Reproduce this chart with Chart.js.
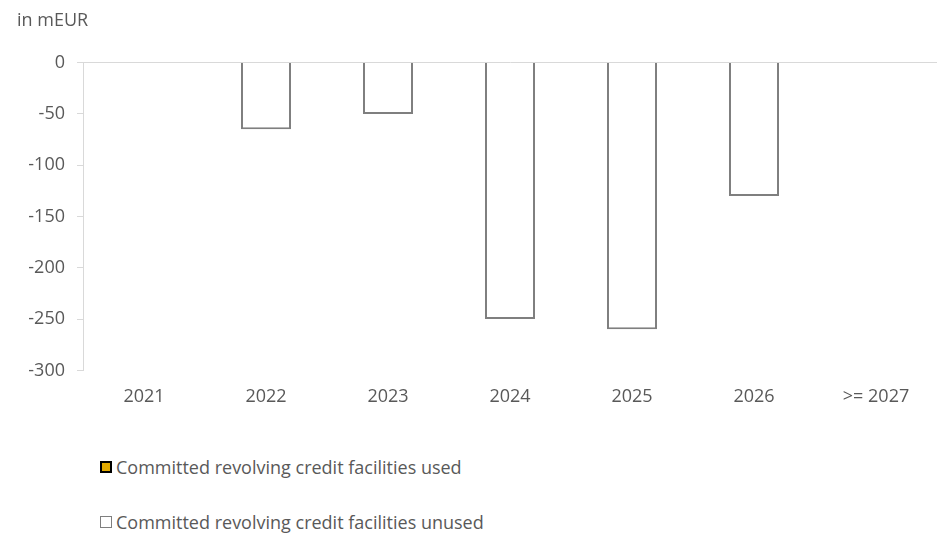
<!DOCTYPE html>
<html>
<head>
<meta charset="utf-8">
<script src="https://cdn.jsdelivr.net/npm/chart.js@4.4.0/dist/chart.umd.min.js"></script>
<style>
  body { margin: 0; background: #fff; font-family: "Open Sans", sans-serif; }
  #wrap { position: relative; width: 941px; height: 535px; }
  #box { position: absolute; left: 0; top: 0; width: 941px; height: 416px; }
  .leg { position: absolute; left: 100px; font-size: 18px; color: #595959; line-height: 22px; display: flex; align-items: center; }
  .sw { width: 12px; height: 12px; margin-right: 4px; box-sizing: border-box; }
</style>
</head>
<body>
<div id="wrap">
  <div id="box"><canvas id="chart_facilities"></canvas></div>
  <div id="legenda"></div>
</div>
<script>
// dados (mEUR)
var anos = ['2021', '2022', '2023', '2024', '2025', '2026', '>= 2027'];
var usado = [0, 0, 0, 0, 0, 0, 0];
var naoUsado = [0, -65, -50, -250, -260, -130, 0];
var ticksY = [0, -50, -100, -150, -200, -250, -300];

var corTexto = '#595959';
var corEixo = '#d9d9d9';

let dados = {
  labels: anos,
  datasets: [{
    label: 'Committed revolving credit facilities used',
    data: usado,
    backgroundColor: '#e2aa00',
    borderColor: '#000000',
    borderWidth: 1.5
  }, {
    label: 'Committed revolving credit facilities unused',
    data: naoUsado,
    backgroundColor: '#ffffff',
    borderColor: '#7f7f7f',
    borderWidth: 2
  }]
};

const config = {
  type: 'bar',
  data: dados,
  options: {
    responsive: true,
    maintainAspectRatio: false,
    animation: false,
    datasets: { bar: { categoryPercentage: 1, barPercentage: 0.41 } },
    layout: { padding: { left: 17, right: 4, top: 0, bottom: 0 } },
    plugins: {
      legend: { display: false },
      tooltip: { enabled: false },
      title: {
        display: true,
        text: 'in mEUR',
        align: 'start',
        color: corTexto,
        font: { family: 'Open Sans', size: 18, weight: 'normal' },
        padding: { top: 10, bottom: 31 }
      }
    },
    scales: {
      x: {
        stacked: true,
        border: { display: false },
        grid: { display: false },
        ticks: { color: corTexto, font: { family: 'Open Sans', size: 18 }, padding: 8 }
      },
      y: {
        stacked: true,
        min: -300,
        max: 0,
        afterFit: function (scale) { scale.width = 66; },
        afterBuildTicks: function (scale) { scale.ticks = ticksY.map(v => ({ value: v })); },
        border: { display: true, color: corEixo, width: 1 },
        grid: {
          color: ctx => (ctx.tick && ctx.tick.value === 0) ? corEixo : 'transparent',
          tickColor: corEixo,
          tickLength: 6,
          lineWidth: 1
        },
        ticks: { color: corTexto, font: { family: 'Open Sans', size: 18 }, padding: 12 }
      }
    }
  }
};

let chart_facilities = new Chart(document.getElementById('chart_facilities'), config);

// legenda vertical feita em html
var legenda = document.getElementById('legenda');
var topos = [456, 511];
dados.datasets.forEach(function (ds, i) {
  var item = document.createElement('div');
  item.className = 'leg';
  item.style.top = topos[i] + 'px';
  var sw = document.createElement('span');
  sw.className = 'sw';
  sw.style.background = ds.backgroundColor;
  sw.style.border = (i == 0 ? 2 : 1) + 'px solid ' + ds.borderColor;
  item.appendChild(sw);
  item.appendChild(document.createTextNode(ds.label));
  legenda.appendChild(item);
});
</script>
</body>
</html>
